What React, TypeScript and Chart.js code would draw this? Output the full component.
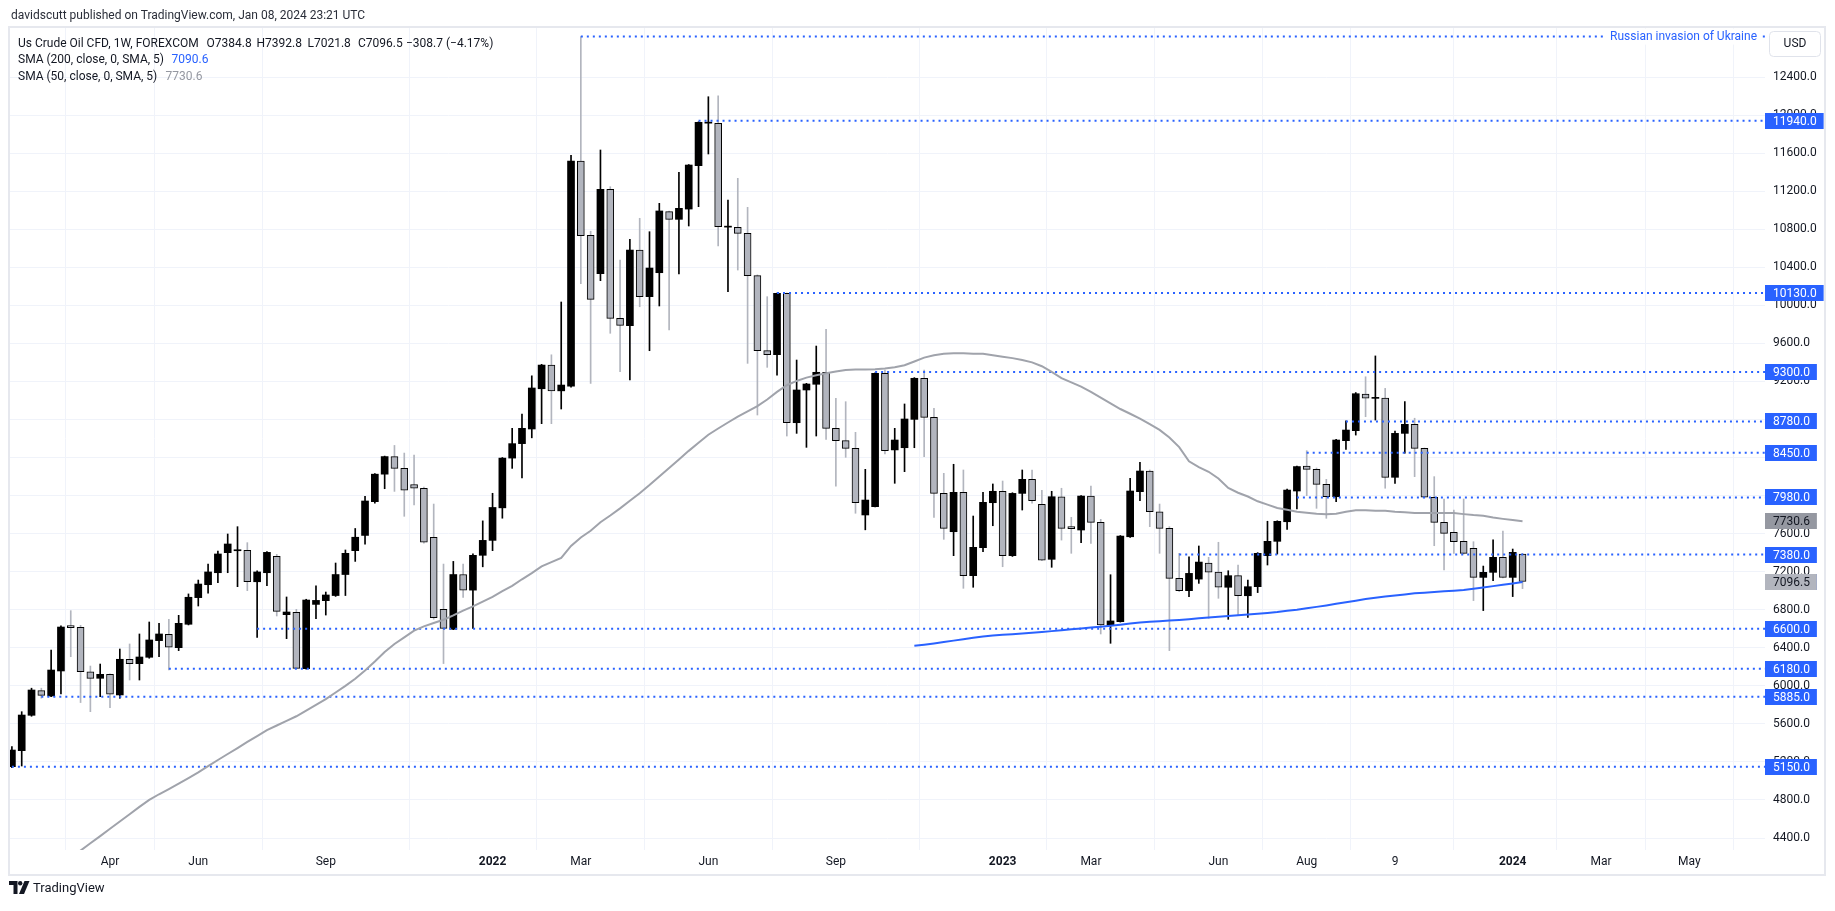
import React, { useEffect, useRef } from 'react';
import { Chart, registerables } from 'chart.js';
Chart.register(...registerables);

// ---------- DATA (weekly candles, index 0 = week of 25 Jan 2021, index 154 = week of 8 Jan 2024) ----------
const opens = [
  5150, 5318, 5690, 5950, 5893, 6156, 6618, 6615, 6148, 6079, 6121, 5904, 6279, 6233, 6300, 6475, 6541, 6401, 6647, 6927,
  7063, 7189, 7400, 7420, 7424, 7094, 7189, 7361, 6748, 6772, 6180, 6856, 6895, 6949, 7170, 7421, 7581, 7936, 8225, 8410,
  8286, 8116, 8077, 7562, 6804, 6595, 7170, 7006, 7372, 7529, 7871, 8394, 8546, 8700, 9123, 9372, 9101, 9150, 11517, 10735,
  10332, 11219, 9863, 9786, 10581, 10091, 10343, 10985, 10904, 11012, 11468, 11915, 11913, 10822, 10820, 10757, 10312, 9523, 9481, 10126,
  8766, 9110, 9170, 9296, 8707, 8577, 8497, 7796, 7883, 9286, 8480, 8503, 8801, 9233, 8822, 8023, 7620, 8034, 7158, 7452,
  7925, 8045, 7368, 8023, 8171, 7908, 7330, 7988, 7658, 7638, 7995, 7718, 6636, 6675, 7567, 8041, 8258, 7830, 7655, 7130,
  7000, 7122, 7290, 7195, 7036, 7158, 6947, 7042, 7368, 7519, 7725, 8048, 8311, 8276, 8118, 7988, 8577, 8682, 9067, 9022,
  9025, 8192, 8654, 8749, 8497, 7982, 7718, 7613, 7519, 7445, 7140, 7193, 7351, 7140, 7384.8,
];
const highs = [
  5360, 5728, 5975, 5975, 6377, 6630, 6790, 6636, 6208, 6229, 6125, 6387, 6440, 6545, 6671, 6657, 6699, 6741, 6966, 7112,
  7281, 7417, 7596, 7673, 7505, 7210, 7410, 7382, 6934, 6804, 6910, 7052, 6986, 7291, 7428, 7654, 7991, 8230, 8415, 8527,
  8447, 8426, 8090, 7911, 7280, 7308, 7280, 7388, 7734, 8024, 8400, 8707, 8856, 9259, 9380, 9480, 10035, 11576, 12825, 10779,
  11633, 11247, 10475, 10694, 10915, 10774, 11072, 10990, 11398, 11480, 11930, 12193, 12203, 11107, 11335, 11030, 10320, 10091, 10130, 10130,
  9425, 9180, 9572, 9748, 9022, 8987, 8665, 8276, 9290, 9318, 8707, 8963, 9240, 9318, 8917, 8234, 8329, 8269, 7785, 8034,
  8122, 8153, 8030, 8269, 8269, 8056, 8045, 8077, 7771, 8000, 8100, 7750, 7168, 7580, 8181, 8350, 8269, 7911, 7673, 7393,
  7357, 7470, 7351, 7509, 7210, 7270, 7112, 7400, 7730, 7735, 8069, 8310, 8472, 8290, 8171, 8590, 8787, 9083, 9249, 9468,
  9127, 8679, 8988, 8813, 8500, 8199, 7964, 7848, 7964, 7515, 7259, 7535, 7627, 7438, 7392.8,
];
const lows = [
  5140, 5157, 5680, 5870, 5885, 5914, 6306, 5824, 5728, 5886, 5770, 5869, 6061, 6061, 6290, 6306, 6166, 6370, 6640, 6839,
  6973, 7084, 7189, 7042, 7000, 6510, 7052, 6734, 6496, 6180, 6175, 6706, 6744, 6940, 6949, 7308, 7489, 7919, 8072, 8044,
  7782, 7903, 7500, 6700, 6234, 6590, 6930, 6604, 7251, 7421, 7762, 8286, 8185, 8607, 8756, 8756, 8910, 9140, 10228, 9179,
  10259, 9706, 9302, 9215, 9985, 9523, 9993, 9741, 10329, 10834, 11037, 11591, 10624, 10143, 10371, 9390, 8847, 9348, 9265, 8626,
  8654, 8507, 8626, 8591, 8100, 8402, 7814, 7640, 7880, 8437, 8129, 8251, 8503, 8409, 7771, 7540, 7368, 7025, 7036, 7410,
  7683, 7252, 7360, 7848, 7919, 7315, 7246, 7532, 7393, 7505, 7497, 6545, 6447, 6670, 7560, 7946, 7673, 7393, 6370, 6990,
  6938, 7077, 6709, 6920, 6699, 6744, 6720, 6980, 7270, 7385, 7645, 7859, 7999, 7866, 7761, 7935, 8486, 8636, 8829, 8794,
  8077, 8129, 8445, 8199, 7975, 7473, 7218, 7393, 7385, 6896, 6791, 7106, 7135, 6938, 7021.8,
];
const closes = [
  5325, 5693, 5956, 5900, 6166, 6618, 6612, 6148, 6079, 6121, 5911, 6279, 6233, 6303, 6482, 6545, 6405, 6657, 6931, 7070,
  7197, 7386, 7491, 7428, 7094, 7197, 7403, 6783, 6776, 6184, 6902, 6898, 6955, 7170, 7393, 7562, 7943, 8225, 8410, 8286,
  8056, 8077, 7509, 6717, 6604, 7170, 7006, 7372, 7529, 7875, 8394, 8546, 8707, 9131, 9372, 9101, 9162, 11517, 10731, 10063,
  11219, 9863, 9790, 10581, 10091, 10392, 10992, 10904, 11020, 11475, 11924, 11920, 10827, 10827, 10757, 10312, 9523, 9481, 10126, 8766,
  9110, 9173, 9296, 8707, 8577, 8497, 7925, 7953, 9286, 8472, 8584, 8805, 9233, 8822, 8023, 7655, 8034, 7158, 7456, 7929,
  8045, 7368, 8023, 8171, 7946, 7322, 7988, 7655, 7652, 7995, 7718, 6640, 6682, 7574, 8048, 8258, 7830, 7655, 7130, 7000,
  7182, 7301, 7195, 7036, 7158, 6947, 7042, 7393, 7519, 7729, 8058, 8305, 8276, 8118, 7988, 8584, 8689, 9071, 9025, 9027,
  8192, 8654, 8749, 8497, 7982, 7718, 7603, 7515, 7393, 7140, 7193, 7351, 7140, 7403, 7096.5,
];

// SMA 50 (grey), first value at candle index 6
const sma50Start = 6;
const sma50 = [
  4190, 4268, 4345, 4420, 4497, 4573, 4650, 4727, 4800, 4860, 4915, 4972, 5030, 5090, 5155, 5220, 5283, 5346, 5410, 5472,
  5535, 5583, 5632, 5680, 5740, 5800, 5860, 5930, 6000, 6075, 6160, 6255, 6355, 6440, 6510, 6580, 6625, 6660, 6695, 6740,
  6790, 6835, 6885, 6935, 6995, 7050, 7120, 7185, 7255, 7300, 7345, 7470, 7560, 7630, 7720, 7790, 7865, 7945, 8025, 8110,
  8200, 8290, 8380, 8470, 8555, 8640, 8705, 8768, 8830, 8885, 8940, 9010, 9090, 9160, 9205, 9240, 9265, 9285, 9305, 9320,
  9325, 9325, 9327, 9335, 9350, 9370, 9410, 9450, 9475, 9490, 9495, 9495, 9492, 9490, 9475, 9460, 9445, 9425, 9400, 9360,
  9300, 9235, 9190, 9145, 9090, 9030, 8970, 8910, 8860, 8810, 8750, 8690, 8610, 8510, 8360, 8300, 8250, 8180, 8080, 8030,
  7990, 7940, 7905, 7870, 7850, 7830, 7820, 7810, 7803, 7810, 7830, 7845, 7845, 7840, 7840, 7830, 7825, 7817, 7817, 7817,
  7817, 7817, 7805, 7795, 7788, 7770, 7755, 7742, 7730.6,
];
// SMA 200 (blue), first value at candle index 92
const sma200Start = 92;
const sma200 = [
  6421, 6432, 6445, 6460, 6475, 6490, 6505, 6518, 6528, 6536, 6543, 6550, 6557, 6565, 6575, 6584, 6594, 6603, 6612, 6622,
  6632, 6643, 6656, 6666, 6673, 6680, 6686, 6692, 6700, 6710, 6718, 6726, 6734, 6742, 6750, 6758, 6766, 6775, 6788, 6800,
  6815, 6830, 6845, 6862, 6878, 6895, 6912, 6926, 6938, 6950, 6961, 6972, 6979, 6986, 6993, 7000, 7007, 7020, 7033, 7048,
  7062, 7076, 7090.6,
];

// horizontal support / resistance levels and the candle index where each ray starts
const levelValues = [11940, 10130, 9300, 8780, 8450, 7980, 7380, 6600, 6180, 5885, 5150];
const levelStarts = [70, 78, 88, 136, 132, 131, 119, 25, 16, 3, 0];
const eventValue = 12825;
const eventStart = 58;
const eventLabel = 'Russian invasion of Ukraine';

const lastPrice = 7096.5;
const sma50Last = 7730.6;
const sma200Last = 7090.6;

const priceTicks = [4400, 4800, 5200, 5600, 6000, 6400, 6800, 7200, 7600, 8000, 8400, 8800, 9200, 9600, 10000, 10400, 10800, 11200, 11600, 12000, 12400];
const xTickIdx = [10, 19, 32, 49, 58, 71, 84, 101, 110, 123, 132, 141, 153, 162, 171];
const xTickLabels = ['Apr', 'Jun', 'Sep', '2022', 'Mar', 'Jun', 'Sep', '2023', 'Mar', 'Jun', 'Aug', '9', '2024', 'Mar', 'May'];

const X_MIN = -0.194;
const X_MAX = 178.72;
const Y_MIN = 4274;
const Y_MAX = 12926;

const FONT = 'Roboto, "Noto Sans", sans-serif';
const BLUE = '#2962ff';
const TEXT = '#131722';

const overlayPlugin = {
  id: 'tvOverlay',
  afterDraw(chart: any) {
    const { ctx, chartArea } = chart;
    const y = chart.scales.y;
    const x = chart.scales.x;
    ctx.save();
    ctx.font = `12px ${FONT}`;
    ctx.textBaseline = 'middle';

    // event label on the top ray
    const ey = y.getPixelForValue(eventValue);
    ctx.textAlign = 'right';
    const tw = ctx.measureText(eventLabel).width;
    const tr = chartArea.right - 8;
    ctx.fillStyle = '#ffffff';
    ctx.fillRect(tr - tw - 5, ey - 8, tw + 8, 16);
    ctx.fillStyle = BLUE;
    ctx.fillText(eventLabel, tr, ey + 0.5);

    // price tags
    ctx.textAlign = 'left';
    const tag = (value: number, text: string, bg: string, fg: string) => {
      const py = y.getPixelForValue(value);
      const w = ctx.measureText(text).width + 15;
      ctx.fillStyle = bg;
      ctx.fillRect(chartArea.right, Math.round(py) - 8, w, 16);
      ctx.fillStyle = fg;
      ctx.fillText(text, chartArea.right + 8, Math.round(py) + 0.5);
    };
    levelValues.forEach((v) => tag(v, v.toFixed(1), BLUE, '#ffffff'));
    tag(sma50Last, sma50Last.toFixed(1), '#9598a1', TEXT);
    tag(sma200Last, sma200Last.toFixed(1), BLUE, '#ffffff');
    tag(lastPrice, lastPrice.toFixed(1), '#b2b5be', TEXT);

    // USD box
    const bx = chartArea.right + 4;
    const by = 31;
    ctx.strokeStyle = '#e0e3eb';
    ctx.lineWidth = 1;
    ctx.fillStyle = '#ffffff';
    ctx.beginPath();
    (ctx as any).roundRect(bx + 0.5, by + 0.5, 51, 25, 4);
    ctx.fill();
    ctx.stroke();
    ctx.fillStyle = TEXT;
    ctx.textAlign = 'center';
    ctx.fillText('USD', bx + 26, by + 13);

    // frame
    ctx.strokeStyle = '#e6e8ee';
    ctx.lineWidth = 2;
    ctx.strokeRect(chartArea.left - 1, chartArea.top, x.right - chartArea.left + 61, 875 - chartArea.top);
    ctx.restore();
  },
};

export default function App() {
  const ref = useRef<HTMLCanvasElement | null>(null);

  useEffect(() => {
    if (!ref.current) return;
    const idx = opens.map((_, i) => i);
    const up = idx.filter((i) => closes[i] >= opens[i]);
    const down = idx.filter((i) => closes[i] < opens[i]);

    const levelSets = levelValues.map((v, k) => ({
      type: 'line' as const,
      data: [
        { x: levelStarts[k], y: v },
        { x: X_MAX, y: v },
      ],
      borderColor: BLUE,
      borderWidth: 2,
      borderDash: [2, 4],
      borderCapStyle: 'butt' as const,
      pointRadius: 0,
      order: 1,
      clip: 0,
    }));
    const eventSet = {
      type: 'line' as const,
      data: [
        { x: eventStart, y: eventValue },
        { x: X_MAX, y: eventValue },
      ],
      borderColor: BLUE,
      borderWidth: 2,
      borderDash: [2, 4],
      pointRadius: 0,
      order: 1,
      clip: 0,
    };

    const chart = new Chart(ref.current, {
      type: 'bar',
      data: {
        datasets: [
          {
            type: 'line',
            data: sma200.map((v, k) => ({ x: sma200Start + k, y: v })),
            borderColor: BLUE,
            borderWidth: 2,
            pointRadius: 0,
            order: 0,
            clip: 0,
          } as any,
          {
            type: 'line',
            data: sma50.map((v, k) => ({ x: sma50Start + k, y: v })),
            borderColor: '#a0a3ab',
            borderWidth: 2,
            pointRadius: 0,
            order: 0,
            clip: 0,
          } as any,
          ...levelSets,
          eventSet,
          {
            type: 'bar',
            data: up.map((i) => ({ x: i, y: [opens[i], closes[i]] })),
            backgroundColor: '#000000',
            borderWidth: 0,
            grouped: false,
            barThickness: 7,
            maxBarThickness: 7,
            minBarLength: 1,
            order: 2,
            clip: 0,
          } as any,
          {
            type: 'bar',
            data: down.map((i) => ({ x: i, y: [opens[i], closes[i]] })),
            backgroundColor: '#b2b5be',
            borderColor: '#000000',
            borderWidth: 1,
            borderSkipped: false,
            grouped: false,
            barThickness: 7,
            maxBarThickness: 7,
            minBarLength: 2,
            order: 2,
            clip: 0,
          } as any,
          {
            type: 'bar',
            data: up.map((i) => ({ x: i, y: [lows[i], highs[i]] })),
            backgroundColor: '#000000',
            borderWidth: 0,
            grouped: false,
            barThickness: 1,
            maxBarThickness: 1,
            order: 3,
            clip: 0,
          } as any,
          {
            type: 'bar',
            data: down.map((i) => ({ x: i, y: [lows[i], highs[i]] })),
            backgroundColor: '#b2b5be',
            borderWidth: 0,
            grouped: false,
            barThickness: 1,
            maxBarThickness: 1,
            order: 3,
            clip: 0,
          } as any,
        ],
      },
      options: {
        responsive: false,
        animation: false,
        devicePixelRatio: 1,
        events: [],
        layout: { padding: { left: 10, right: 10, top: 27, bottom: 36 } },
        plugins: { legend: { display: false }, tooltip: { enabled: false } },
        scales: {
          x: {
            type: 'linear',
            min: X_MIN,
            max: X_MAX,
            offset: false,
            border: { display: false },
            grid: { color: '#f0f3fa', drawTicks: false, lineWidth: 1 },
            afterBuildTicks: (s: any) => {
              s.ticks = xTickIdx.map((v) => ({ value: v }));
            },
            afterFit: (s: any) => {
              s.height = 25;
            },
            ticks: {
              autoSkip: false,
              maxRotation: 0,
              padding: 5,
              color: TEXT,
              font: (c: any) => ({
                family: FONT,
                size: 12,
                weight: /^\d{4}$/.test(xTickLabels[c.index] || '') ? 'bold' : 'normal',
              }),
              callback: (_v: any, i: number) => xTickLabels[i],
            },
          },
          y: {
            type: 'linear',
            position: 'right',
            min: Y_MIN,
            max: Y_MAX,
            border: { display: false },
            grid: { color: '#f0f3fa', drawTicks: false, lineWidth: 1 },
            afterBuildTicks: (s: any) => {
              s.ticks = priceTicks.map((v) => ({ value: v }));
            },
            afterFit: (s: any) => {
              s.width = 60;
            },
            ticks: {
              padding: 8,
              color: TEXT,
              font: { family: FONT, size: 12 },
              callback: (v: any) => Number(v).toFixed(1),
            },
          },
        },
      } as any,
      plugins: [overlayPlugin],
    });
    return () => chart.destroy();
  }, []);

  const txt = (left: number, cy: number, s: string, color = TEXT, size = 12): React.ReactElement => (
    <div
      style={{
        position: 'absolute',
        left,
        top: cy - 8,
        lineHeight: '16px',
        fontSize: size,
        fontFamily: FONT,
        color,
        whiteSpace: 'nowrap',
      }}
    >
      {s}
    </div>
  );

  return (
    <div style={{ position: 'absolute', left: 0, top: 0, width: 1835, height: 911, background: '#ffffff', overflow: 'hidden' }}>
      <canvas ref={ref} width={1835} height={911} style={{ position: 'absolute', left: 0, top: 0, display: 'block' }} />
      {txt(11, 15, 'davidscutt published on TradingView.com, Jan 08, 2024 23:21 UTC', '#2a2e39', 12)}
      {txt(18, 43.3, 'Us Crude Oil CFD, 1W, FOREXCOM')}
      {txt(206.5, 43.3, 'O7384.8')}
      {txt(256.5, 43.3, 'H7392.8')}
      {txt(307.5, 43.3, 'L7021.8')}
      {txt(358, 43.3, 'C7096.5')}
      {txt(406, 43.3, '−308.7 (−4.17%)')}
      {txt(18, 59.3, 'SMA (200, close, 0, SMA, 5)')}
      {txt(171.5, 59.3, '7090.6', BLUE)}
      {txt(18, 75.7, 'SMA (50, close, 0, SMA, 5)')}
      {txt(165.5, 75.7, '7730.6', '#9598a1')}
      <svg style={{ position: 'absolute', left: 9, top: 881 }} width={22} height={13} viewBox="0 0 22 13">
        <path d="M0 0 H8.5 V13 H4.5 V4 H0 Z" fill={TEXT} />
        <circle cx={11.2} cy={2.2} r={2.2} fill={TEXT} />
        <path d="M15.5 0 H20.5 L15 13 H10 Z" fill={TEXT} />
      </svg>
      {txt(33, 887.5, 'TradingView', TEXT, 13)}
    </div>
  );
}
